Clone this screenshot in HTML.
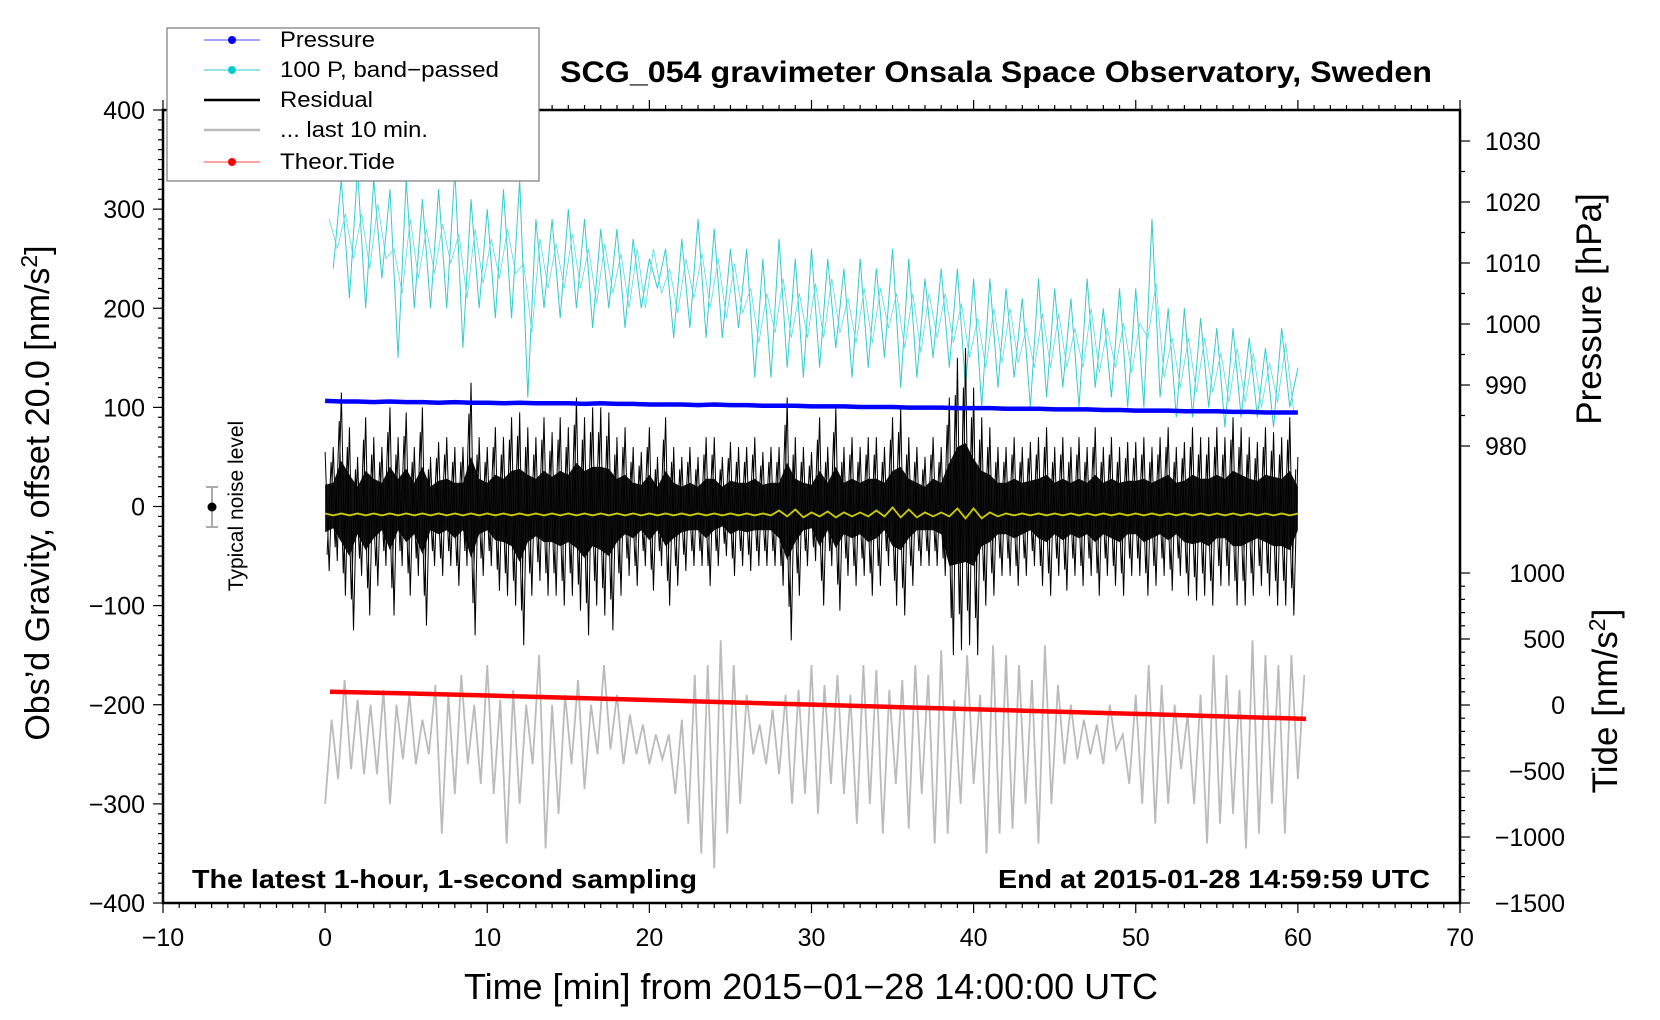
<!DOCTYPE html>
<html><head><meta charset="utf-8">
<style>
html,body{margin:0;padding:0;background:#fff;}
svg{display:block;font-family:"Liberation Sans",sans-serif;}
</style></head>
<body>
<svg id="chart" width="1660" height="1020" viewBox="0 0 1660 1020" xmlns="http://www.w3.org/2000/svg">
<g id="marks"></g>
<g id="axes"></g>
<rect x="167" y="28" width="372" height="153" fill="#fff" stroke="#777" stroke-width="1.2"/>
<g font-size="22">
 <g><line x1="204" y1="40" x2="260" y2="40" stroke="#44f" stroke-width="1"/><circle cx="232" cy="40" r="4" fill="#00f"/><text x="280" y="47" textLength="95" lengthAdjust="spacingAndGlyphs">Pressure</text></g>
 <g><line x1="204" y1="70" x2="260" y2="70" stroke="#3cc" stroke-width="1"/><circle cx="232" cy="70" r="4" fill="#0cc"/><text x="280" y="77" textLength="219" lengthAdjust="spacingAndGlyphs">100 P, band−passed</text></g>
 <g><line x1="204" y1="100" x2="260" y2="100" stroke="#000" stroke-width="2.5"/><text x="280" y="107" textLength="93" lengthAdjust="spacingAndGlyphs">Residual</text></g>
 <g><line x1="204" y1="130" x2="260" y2="130" stroke="#bbb" stroke-width="2.5"/><text x="280" y="137" textLength="148" lengthAdjust="spacingAndGlyphs">... last 10 min.</text></g>
 <g><line x1="204" y1="162" x2="260" y2="162" stroke="#f44" stroke-width="1"/><circle cx="232" cy="162" r="4" fill="#f00"/><text x="280" y="169" textLength="115" lengthAdjust="spacingAndGlyphs">Theor.Tide</text></g>
</g>
<text x="560" y="82" font-size="30" font-weight="bold" textLength="872" lengthAdjust="spacingAndGlyphs">SCG_054 gravimeter Onsala Space Observatory, Sweden</text>
<text x="192" y="888" font-size="26" font-weight="bold" textLength="505" lengthAdjust="spacingAndGlyphs">The latest 1-hour, 1-second sampling</text>
<text x="998" y="888" font-size="26" font-weight="bold" textLength="432" lengthAdjust="spacingAndGlyphs">End at 2015-01-28 14:59:59 UTC</text>
<text x="464" y="999" font-size="36" textLength="694" lengthAdjust="spacingAndGlyphs">Time [min] from 2015−01−28 14:00:00 UTC</text>
<text transform="translate(49,493) rotate(-90)" text-anchor="middle" font-size="34">Obs’d Gravity, offset 20.0 [nm/s<tspan dy="-12" font-size="23">2</tspan><tspan dy="12">]</tspan></text>
<text transform="translate(1601,309) rotate(-90)" text-anchor="middle" font-size="35">Pressure [hPa]</text>
<text transform="translate(1617,701) rotate(-90)" text-anchor="middle" font-size="35">Tide [nm/s<tspan dy="-12" font-size="23">2</tspan><tspan dy="12">]</tspan></text>
<text transform="translate(243,506) rotate(-90)" text-anchor="middle" font-size="21">Typical noise level</text>
<g>
 <line x1="212" y1="487" x2="212" y2="527" stroke="#aaa" stroke-width="2"/>
 <line x1="206" y1="487" x2="218" y2="487" stroke="#aaa" stroke-width="2"/>
 <line x1="206" y1="527" x2="218" y2="527" stroke="#aaa" stroke-width="2"/>
 <circle cx="212" cy="507" r="4.5" fill="#000"/>
</g>
</svg>
<script>
// ---- data ----
const xTicks = [-10,0,10,20,30,40,50,60,70];
const yTicks = [400,300,200,100,0,-100,-200,-300,-400];
const pTicks = [1030,1020,1010,1000,990,980];
const tTicks = [1000,500,0,-500,-1000,-1500];
// residual envelope every 0.5 min (nm/s^2)
const resHi = [55,60,115,80,50,90,70,60,100,70,95,60,100,50,65,70,60,60,125,70,60,80,70,90,95,80,70,90,75,90,80,110,90,100,100,95,70,80,60,55,80,50,90,60,50,60,50,70,70,50,65,60,60,70,55,60,60,110,70,60,55,90,60,100,60,70,60,70,70,60,90,100,70,60,50,70,60,110,150,160,120,90,80,60,60,70,60,65,70,80,60,70,60,70,60,80,60,70,60,65,65,70,60,70,80,60,65,80,70,70,80,70,90,80,70,65,80,75,70,90,50];
const resLo = [-65,-55,-90,-125,-70,-110,-80,-60,-110,-60,-90,-70,-120,-60,-70,-60,-80,-60,-130,-70,-60,-85,-90,-100,-140,-90,-75,-90,-90,-100,-90,-105,-130,-100,-110,-125,-90,-70,-80,-60,-85,-60,-100,-80,-65,-60,-60,-80,-60,-50,-70,-60,-65,-60,-60,-60,-80,-135,-90,-60,-55,-100,-60,-105,-70,-80,-70,-90,-80,-60,-100,-110,-80,-60,-60,-60,-70,-150,-145,-140,-150,-100,-90,-70,-70,-80,-70,-60,-80,-90,-70,-85,-70,-80,-70,-90,-70,-80,-90,-70,-70,-90,-80,-70,-85,-70,-90,-95,-90,-100,-80,-80,-100,-100,-90,-80,-90,-100,-100,-110,-60];
// 100 P band-passed, per minute hi/lo (left-axis units)
const cyanHi = [290,330,340,330,320,330,310,320,340,310,300,320,330,290,290,300,290,280,280,270,250,260,270,290,280,260,260,250,270,250,260,250,240,250,240,260,250,230,240,240,230,230,220,210,230,220,210,230,200,220,220,290,200,200,190,180,180,170,160,180,140];
const cyanLo = [240,210,200,230,150,200,200,200,160,200,190,190,110,200,190,200,180,200,180,200,220,170,180,170,170,180,130,130,140,130,140,160,130,140,150,120,130,150,140,120,100,120,130,100,110,120,100,120,110,100,100,110,90,90,100,80,90,90,80,100,100];
// last 10 min (stretched), alternating crests/troughs every 0.4 min
const grayHi = [-215,-175,-195,-200,-185,-200,-190,-215,-180,-190,-170,-200,-160,-195,-185,-200,-150,-200,-190,-175,-200,-160,-190,-210,-220,-230,-230,-215,-170,-160,-135,-160,-190,-220,-205,-190,-185,-160,-180,-170,-190,-160,-165,-185,-175,-160,-170,-145,-195,-150,-190,-140,-150,-160,-175,-140,-180,-200,-215,-220,-200,-230,-190,-160,-180,-200,-210,-190,-150,-170,-185,-135,-150,-160,-150,-170];
const grayLo = [-300,-275,-265,-270,-270,-300,-255,-260,-250,-330,-290,-260,-280,-290,-340,-300,-260,-345,-310,-260,-285,-250,-245,-260,-250,-260,-255,-290,-320,-350,-365,-330,-300,-250,-260,-270,-300,-290,-310,-280,-290,-320,-300,-330,-280,-325,-290,-340,-330,-300,-280,-350,-330,-325,-300,-340,-300,-260,-255,-250,-260,-245,-280,-300,-320,-300,-265,-300,-340,-320,-310,-345,-330,-300,-330,-275];
// smoothed residual (yellow), per minute mean and wiggle half-amplitude
const yelMean = [-8,-8,-8,-8,-8,-8,-8,-8,-8,-8,-8,-8,-8,-8,-8,-8,-8,-8,-8,-8,-8,-8,-8,-8,-8,-8,-8,-8,-7,-7,-8,-8,-8,-8,-7,-6,-7,-8,-8,-7,-7,-8,-8,-8,-8,-8,-8,-8,-8,-8,-8,-8,-8,-8,-8,-8,-8,-8,-8,-8,-8];
const yelWig = [1,1,1,1,1,1,1,1,1,1,1,1,1,1,1,1,1,1,1,1,1,1,1,1,1,1,1,1,3,4,2,3,2,2,3,5,4,2,2,5,5,2,1,1,1,1,1,1,1,1,1,1,1,1,1,1,1,1,1,1,1];
// pressure per minute (hPa)
const pressure = [987.4,987.3,987.3,987.2,987.3,987.2,987.2,987.1,987.2,987.1,987.1,987.0,987.1,987.0,987.0,987.0,986.9,987.0,986.9,986.9,986.8,986.8,986.8,986.7,986.8,986.7,986.7,986.6,986.6,986.6,986.5,986.5,986.5,986.4,986.4,986.4,986.3,986.3,986.3,986.2,986.2,986.2,986.1,986.1,986.1,986.0,986.0,986.0,985.9,985.9,985.8,985.8,985.8,985.7,985.7,985.7,985.6,985.6,985.5,985.5,985.5];
// theoretical tide every 5 min (nm/s^2)
const tideT = [0.3,5,10,15,20,25,30,35,40,45,50,55,60.5];
const tideV = [100,88,72,55,38,20,3,-15,-32,-50,-67,-85,-105];

// ---- axes functions ----
const X0=163, X1=1460, Y0=110, Y1=903;
const xs = v => X0 + (v+10)/80*(X1-X0);
const ys = v => Y0 + (400-v)/800*(Y1-Y0);
const ps = v => 141 + (1030-v)/50*(446-141);
const ts = v => 573 + (1000-v)/2500*(903-573);
const NS='http://www.w3.org/2000/svg';
const marks=document.getElementById('marks'), axes=document.getElementById('axes');
function mk(tag,attrs,parent){const e=document.createElementNS(NS,tag);for(const k in attrs)e.setAttribute(k,attrs[k]);parent.appendChild(e);return e;}

// cyan
let pts=[];
for(let i=0;i<cyanHi.length;i++){pts.push(xs(i)+','+ys(cyanHi[i]));pts.push(xs(i+0.5)+','+ys(cyanLo[i]));}
let el=mk('polyline',{points:pts.slice(1,-1).join(' '),fill:'none',stroke:'#3cc','stroke-width':1},marks);


pts=[];
for(let i=0;i<cyanHi.length-1;i++){pts.push(xs(i+0.25)+','+ys((cyanHi[i]+cyanLo[i])/2+25));pts.push(xs(i+0.75)+','+ys((cyanLo[i]+cyanHi[i+1])/2-25));}
el=mk('polyline',{points:pts.join(' '),fill:'none',stroke:'#5dd','stroke-width':0.8},marks);



// gray last 10 min
pts=[];
for(let i=0;i<Math.min(grayHi.length,grayLo.length);i++){pts.push(xs(i*0.8)+','+ys(grayLo[i]));pts.push(xs(i*0.8+0.4)+','+ys(grayHi[i]));}
el=mk('polyline',{points:pts.join(' '),fill:'none',stroke:'#bbb','stroke-width':1.8},marks);



// residual core band + zigzag
pts=[];
for(let i=0;i<resHi.length;i++){pts.push(xs(i*0.5)+','+ys(resHi[i]*0.4));}
for(let i=resLo.length-1;i>=0;i--){pts.push(xs(i*0.5)+','+ys(resLo[i]*0.4));}
el=mk('polygon',{points:pts.join(' '),fill:'#111'},marks);


pts=[];
for(let i=0;i<resHi.length;i++){pts.push(xs(i*0.5)+','+ys(resHi[i]));if(i<resHi.length-1)pts.push(xs(i*0.5+0.25)+','+ys(resLo[i]));}
el=mk('polyline',{points:pts.join(' '),fill:'none',stroke:'#000','stroke-width':1},marks);


pts=[];
for(let i=0;i<resHi.length-1;i++){pts.push(xs(i*0.5+0.12)+','+ys(resLo[i]*0.75));pts.push(xs(i*0.5+0.37)+','+ys(resHi[i+1]*0.75));}
el=mk('polyline',{points:pts.join(' '),fill:'none',stroke:'#000','stroke-width':1},marks);



// yellow
pts=[];
for(let i=0;i<yelMean.length;i++){pts.push(xs(i)+','+ys(yelMean[i]+yelWig[i]));if(i<yelMean.length-1)pts.push(xs(i+0.5)+','+ys(yelMean[i]-yelWig[i]));}
el=mk('polyline',{points:pts.join(' '),fill:'none',stroke:'#cc0','stroke-width':1.8},marks);



// pressure
pts=pressure.map((v,i)=>xs(i)+','+ps(v));
el=mk('polyline',{points:pts.join(' '),fill:'none',stroke:'#00f','stroke-width':4.5},marks);



// tide
pts=tideV.map((v,i)=>xs(tideT[i])+','+ts(v));
el=mk('polyline',{points:pts.join(' '),fill:'none',stroke:'#f00','stroke-width':4.5},marks);



// frame
el=mk('rect',{x:X0,y:Y0,width:X1-X0,height:Y1-Y0,fill:'none',stroke:'#000','stroke-width':2.5},axes);


// x ticks
for(let m=-10;m<=70;m++){const x=xs(m),L=(m%10===0)?10:5;
 mk('line',{x1:x,y1:Y1,x2:x,y2:Y1+L,stroke:'#000','stroke-width':1.2},axes);
 mk('line',{x1:x,y1:Y0,x2:x,y2:Y0-L,stroke:'#000','stroke-width':1.2},axes);}
xTicks.forEach(v=>{const t=mk('text',{x:xs(v),y:Y1+43,'text-anchor':'middle','font-size':25},axes);t.textContent=String(v).replace('-','−');
 
 });
// y ticks
for(let v=-400;v<=400;v+=10){const y=ys(v),L=(v%100===0)?10:5;mk('line',{x1:X0,y1:y,x2:X0-L,y2:y,stroke:'#000','stroke-width':1.2},axes);}
yTicks.forEach(v=>{const t=mk('text',{x:X0-18,y:ys(v)+9,'text-anchor':'end','font-size':25},axes);t.textContent=String(v).replace('-','−');
 
 });
// pressure ticks
for(let v=980;v<=1030;v+=5){const y=ps(v),L=(v%10===0)?10:5;mk('line',{x1:X1,y1:y,x2:X1+L,y2:y,stroke:'#000','stroke-width':1.2},axes);}
pTicks.forEach(v=>{const t=mk('text',{x:X1+25,y:ps(v)+9,'font-size':25},axes);t.textContent=String(v);
 
 });
// tide ticks
for(let v=-1500;v<=1000;v+=100){const y=ts(v),L=(v%500===0)?10:5;mk('line',{x1:X1,y1:y,x2:X1+L,y2:y,stroke:'#000','stroke-width':1.2},axes);}
tTicks.forEach(v=>{const t=mk('text',{x:X1+105,y:ts(v)+9,'text-anchor':'end','font-size':25},axes);t.textContent=String(v).replace('-','−');
 
 });
</script>
</body></html>
